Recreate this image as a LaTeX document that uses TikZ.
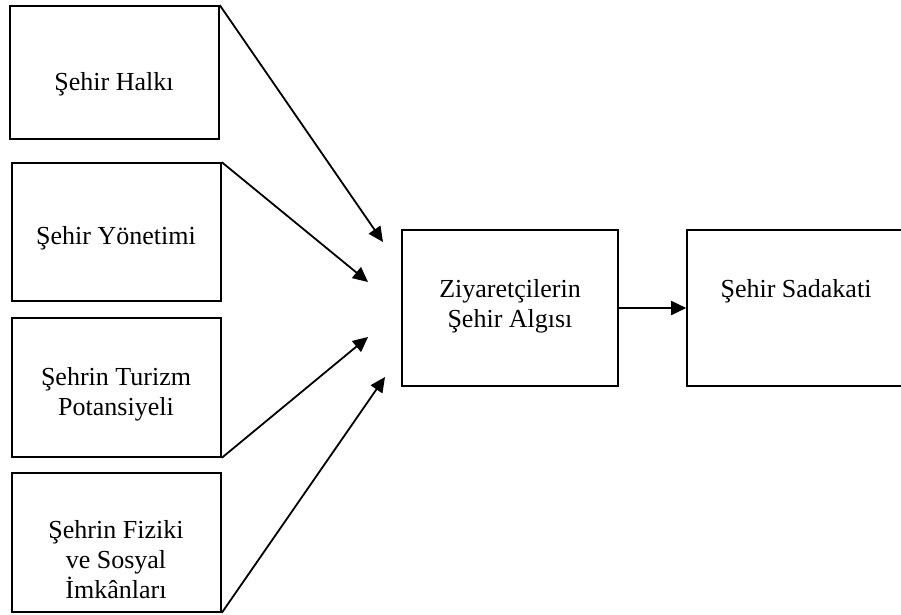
\documentclass[tikz,border=0pt]{standalone}
\usepackage{fontspec}
\setmainfont{Liberation Serif}
\usetikzlibrary{arrows.meta}

\begin{document}
\begin{tikzpicture}[x=1pt,y=-1pt,
    kutu/.style={draw,line width=1.6pt,inner sep=0pt,minimum width=209pt},
    yazi/.style={align=center,font=\fontsize{26}{30}\selectfont},
    ok/.style={line width=1.8pt,-{Triangle[length=15pt,width=14pt]}}]
    \useasboundingbox (0,0) rectangle (901,614);
    % left column
    \node[kutu,minimum height=133pt] (halk) at (114.5,72.5) {};
    \node[kutu,minimum height=138pt] (yonetim) at (116.5,232) {};
    \node[kutu,minimum height=139pt] (turizm) at (116.5,387.5) {};
    \node[kutu,minimum height=139pt] (imkan) at (116.5,542.5) {};
    \node[yazi] (halkyazi) at (114,84.6) {Şehir Halkı};
    \node[yazi] (yonetimyazi) at (116,238.5) {Şehir Yönetimi};
    \node[yazi] (turizmyazi) at (116,394.4) {Şehrin Turizm\\Potansiyeli};
    \node[yazi] (imkanyazi) at (116,560) {Şehrin Fiziki\\ve Sosyal\\İmkânları};
    % middle and right
    \node[kutu,minimum width=216pt,minimum height=156pt] (algi) at (510,308) {};
    \node[kutu,minimum width=217pt,minimum height=156pt] (sadakat) at (795.5,308) {};
    \node[yazi] (algiyazi) at (510,306) {Ziyaretçilerin\\Şehir Algısı};
    \node[yazi] (sadakatyazi) at (796,291) {Şehir Sadakati};
    % arrows
    \coordinate (u1) at (383,242);
    \coordinate (u2) at (368,282);
    \coordinate (u3) at (368,337);
    \coordinate (u4) at (385,377);
    \draw[ok] (halk.north east) to (u1);
    \draw[ok] (yonetim.north east) to (u2);
    \draw[ok] (turizm.south east) to (u3);
    \draw[ok] (imkan.south east) to (u4);
    \draw[ok] (algi.east) to (sadakat.west);
\end{tikzpicture}
\end{document}
